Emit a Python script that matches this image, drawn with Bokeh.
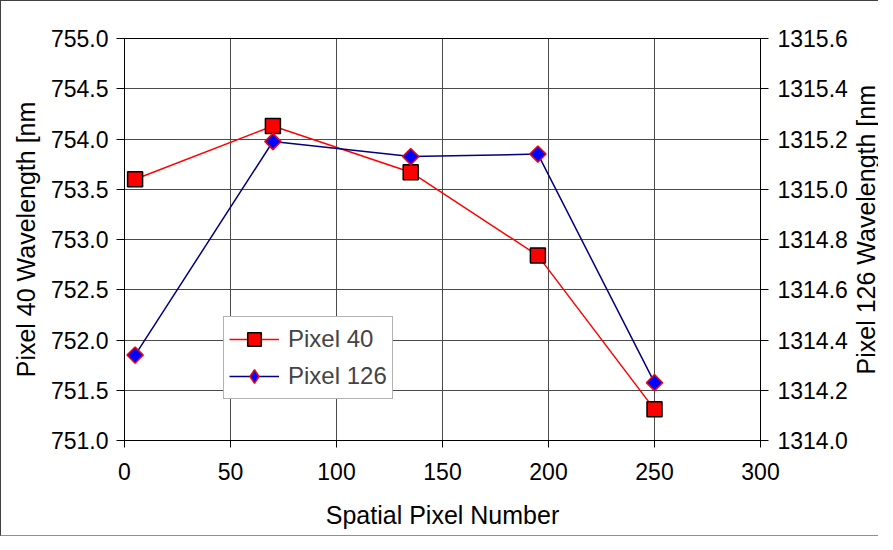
from bokeh.plotting import figure
from bokeh.layouts import row
from bokeh.models import (Range1d, LinearAxis, FixedTicker, NumeralTickFormatter,
                          Legend, LegendItem, Label)
from bokeh.embed import file_html
from bokeh.resources import INLINE
import math

# ---- data ----
spatial_pixel = [5, 70, 135, 195, 250]
pixel40_wl = [753.60, 754.13, 753.67, 752.84, 751.31]
pixel126_wl = [1314.34, 1315.19, 1315.13, 1315.14, 1314.23]

x_ticks = [0, 50, 100, 150, 200, 250, 300]
left_ticks = [751.0, 751.5, 752.0, 752.5, 753.0, 753.5, 754.0, 754.5, 755.0]
right_ticks = [1314.0, 1314.2, 1314.4, 1314.6, 1314.8, 1315.0, 1315.2, 1315.4, 1315.6]

FONT = "Liberation Sans"
TICK_SIZE = "23px"
LABEL_SIZE = "25px"

W_MAIN, W_SIDE, H = 852, 25, 534

p = figure(width=W_MAIN, height=H, output_backend="svg", toolbar_location=None,
           x_range=Range1d(0, 300), y_range=Range1d(751.0, 755.0),
           min_border_left=123, min_border_right=93, min_border_top=37,
           min_border_bottom=95)
p.extra_y_ranges = {"right": Range1d(1314.0, 1315.6)}

p.background_fill_color = "white"
p.border_fill_color = "white"
p.outline_line_color = "black"
p.outline_line_width = 1

# grids
p.xgrid.ticker = FixedTicker(ticks=x_ticks)
p.ygrid.ticker = FixedTicker(ticks=left_ticks)
for g in (p.xgrid, p.ygrid):
    g.grid_line_color = "#4a4a4a"
    g.grid_line_width = 1

def style_axis(ax):
    ax.major_label_text_font = FONT
    ax.major_label_text_font_size = TICK_SIZE
    ax.major_label_text_color = "black"
    ax.axis_label_text_font = FONT
    ax.axis_label_text_font_size = LABEL_SIZE
    ax.axis_label_text_font_style = "normal"
    ax.axis_label_text_color = "black"
    ax.axis_line_color = "black"
    ax.major_tick_line_color = "black"
    ax.major_tick_in = 0
    ax.major_tick_out = 8
    ax.minor_tick_line_color = None

# x axis
xa = p.xaxis[0]
xa.ticker = FixedTicker(ticks=x_ticks)
xa.axis_label = "Spatial Pixel Number"
style_axis(xa)
xa.major_tick_out = 7
xa.major_label_standoff = 15
xa.axis_label_standoff = 18

# left axis
ya = p.yaxis[0]
ya.ticker = FixedTicker(ticks=left_ticks)
ya.formatter = NumeralTickFormatter(format="0.0")
ya.axis_label = "Pixel 40 Wavelength [nm"
style_axis(ya)
ya.major_label_standoff = 8
ya.axis_label_standoff = 8

# right axis (its title is drawn in a narrow side panel so it reads bottom-to-top)
ra = LinearAxis(y_range_name="right", ticker=FixedTicker(ticks=right_ticks),
                formatter=NumeralTickFormatter(format="0.0"))
style_axis(ra)
ra.major_label_standoff = 9
p.add_layout(ra, "right")

# series
l1 = p.line(spatial_pixel, pixel40_wl, line_color="#FF0000", line_width=1.5)
m1 = p.scatter(spatial_pixel, pixel40_wl, marker="square", size=15,
               fill_color="#FF0000", line_color="black", line_width=1.5)

l2 = p.line(spatial_pixel, pixel126_wl, line_color="#000080", line_width=1.5,
            y_range_name="right")
m2 = p.scatter(spatial_pixel, pixel126_wl, marker="square", size=11.5,
               angle=math.pi / 4, fill_color="#0000FF", line_color="#FF0000",
               line_width=1.5, y_range_name="right")
# legend swatch glyph: one point placed off the visible x-range
m2_leg = p.scatter(x=[-1000], y=[1314.5], marker="diamond", size=16,
                   fill_color="#0000FF", line_color="#FF0000", line_width=1.5,
                   y_range_name="right")

legend = Legend(items=[LegendItem(label="Pixel 40", renderers=[l1, m1]),
                       LegendItem(label="Pixel 126", renderers=[l2, m2_leg])],
                location=(99, 41), label_text_font=FONT,
                label_text_font_size="24px", border_line_color="#666666",
                border_line_width=1, background_fill_alpha=1,
                glyph_width=50, glyph_height=34, label_height=22,
                spacing=3, padding=5, margin=0, label_standoff=9)
p.add_layout(legend, "center")

# narrow side panel holding the right axis title
side = figure(width=W_SIDE, height=H, output_backend="svg", toolbar_location=None,
              x_range=Range1d(0, W_SIDE), y_range=Range1d(0, H),
              x_axis_location=None, y_axis_location=None, min_border=0)
side.outline_line_color = None
side.grid.visible = False
side.border_fill_color = "white"
side.background_fill_color = "white"
side.add_layout(Label(x=12, y=H - 254, text="Pixel 126 Wavelength [nm",
                      angle=math.pi / 2, text_align="center",
                      text_baseline="middle", text_font=FONT,
                      text_font_size=LABEL_SIZE, text_color="black"))

layout = row(p, side, spacing=0)
layout.styles = {"border-left": "1px solid #404040", "border-top": "1px solid #404040",
                 "border-bottom": "1px solid #909090"}

open("out.html", "w").write(file_html(layout, INLINE))
